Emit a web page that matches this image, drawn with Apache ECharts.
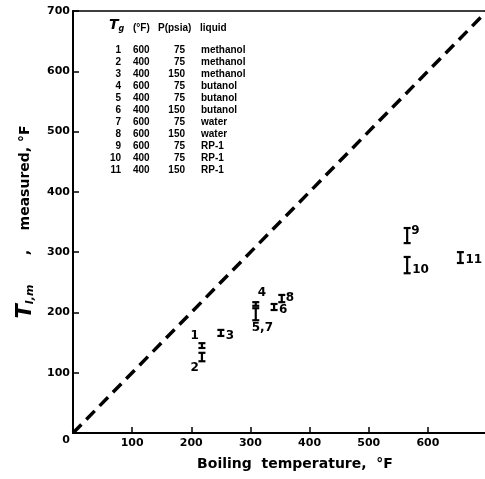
<!DOCTYPE html>
<html>
<head>
<meta charset="UTF-8">
<title>boiling_temp.html</title>
<script src="https://cdn.jsdelivr.net/npm/echarts@6/dist/echarts.min.js"></script>
<style>
html, body { margin:0; padding:0; background:#fff; overflow:hidden; }
/* a bit wider than the window: the 700 end of the x axis falls just outside, as in the scan */
#chart { width:490px; height:479px; }
</style>
</head>
<body>
<div id="chart"></div>
<script>
// runs: boiling temperature (x) and measured range low/high, all in deg F
var runs   = ['1', '2', '3', '4', '5,7', '6', '8', '9', '10', '11'];
var boilT  = [218, 218, 250, 309, 309, 340, 353, 565, 565, 655];
var measLo = [141, 119, 161, 211, 187, 204, 217, 315, 265, 282];
var measHi = [149, 133, 171, 217, 207, 214, 229, 340, 292, 300];
// where the run number sits next to its bar
var labelPos = ['tl', 'bl', 'r', 'tr', 'b', 'r', 'rt', 'rt', 'br', 'br'];

// 45 degree reference line
var refLine = [[0, 0], [700, 700]];

// table in the upper left corner
var tabNo  = ['1', '2', '3', '4', '5', '6', '7', '8', '9', '10', '11'];
var tabTg  = ['600', '400', '400', '600', '400', '400', '600', '600', '600', '400', '400'];
var tabP   = ['75', '75', '150', '75', '75', '150', '75', '150', '75', '75', '150'];
var tabLiq = ['methanol', 'methanol', 'methanol', 'butanol', 'butanol', 'butanol',
              'water', 'water', 'RP-1', 'RP-1', 'RP-1'];

var FONT = 'DejaVu Sans';
var TFONT = 'Liberation Sans';

function renderBar(params, api) {
  var i = params.dataIndex;
  var top = api.coord([api.value(0), api.value(2)]);
  var bot = api.coord([api.value(0), api.value(1)]);
  var w = 3.5;
  var x = top[0];
  var tx = x, ty = top[1], ta = 'left', tv = 'middle';
  switch (labelPos[i]) {
    case 'tl': tx = x - 3; ty = top[1] - 1; ta = 'right'; tv = 'bottom'; break;
    case 'bl': tx = x - 3; ty = bot[1] + 1; ta = 'right'; tv = 'top'; break;
    case 'r':  tx = x + 5; ty = (top[1] + bot[1]) / 2 + 3; ta = 'left'; tv = 'middle'; break;
    case 'tr': tx = x + 2; ty = top[1] - 3; ta = 'left'; tv = 'bottom'; break;
    case 'b':  tx = x - 4; ty = bot[1] + 2; ta = 'left'; tv = 'top'; break;
    case 'rt': tx = x + 4; ty = top[1] - 3; ta = 'left'; tv = 'top'; break;
    case 'br': tx = x + 5; ty = bot[1] + 3; ta = 'left'; tv = 'bottom'; break;
  }
  var st = { stroke: '#000', lineWidth: 2.2 };
  return {
    type: 'group',
    children: [
      { type: 'line', shape: { x1: x, y1: top[1], x2: x, y2: bot[1] }, style: st },
      { type: 'line', shape: { x1: x - w, y1: top[1], x2: x + w, y2: top[1] }, style: st },
      { type: 'line', shape: { x1: x - w, y1: bot[1], x2: x + w, y2: bot[1] }, style: st },
      { type: 'text', x: tx, y: ty,
        style: { text: runs[i], fill: '#000', font: 'bold 12px ' + FONT, align: ta, verticalAlign: tv } }
    ]
  };
}

var barData = [];
for (var i = 0; i < runs.length; i++) {
  barData.push([boilT[i], measLo[i], measHi[i]]);
}

// table as graphic text columns
var rowTop = 44, rowH = 12;
var tabFont = 'bold 10px ' + TFONT;
var tableGraphics = [
  { type: 'text', left: 109, top: 18,
    style: { text: '{t|T}{s|g}', rich: {
      t: { font: 'italic bold 14px ' + FONT, fill: '#000' },
      s: { font: 'italic bold 8px ' + FONT, fill: '#000', padding: [7, 0, 0, 0] } } } },
  { type: 'text', left: 133, top: 23, style: { text: '(°F)', font: tabFont, fill: '#000' } },
  { type: 'text', left: 158, top: 23, style: { text: 'P(psia)', font: tabFont, fill: '#000' } },
  { type: 'text', left: 200, top: 23, style: { text: 'liquid', font: tabFont, fill: '#000' } },
  { type: 'text', x: 121, y: rowTop,
    style: { text: tabNo.join('\n'), font: tabFont, fill: '#000', align: 'right', lineHeight: rowH } },
  { type: 'text', x: 133, y: rowTop,
    style: { text: tabTg.join('\n'), font: tabFont, fill: '#000', align: 'left', lineHeight: rowH } },
  { type: 'text', x: 185, y: rowTop,
    style: { text: tabP.join('\n'), font: tabFont, fill: '#000', align: 'right', lineHeight: rowH } },
  { type: 'text', x: 201, y: rowTop,
    style: { text: tabLiq.join('\n'), font: tabFont, fill: '#000', align: 'left', lineHeight: rowH } }
];

var myChart = echarts.init(document.getElementById('chart'), null, { renderer: 'canvas' });

var option = {
  backgroundColor: '#fff',
  animation: false,
  textStyle: { fontFamily: FONT, color: '#000' },
  grid: {
    left: 73, top: 11, right: 0, bottom: 46,
    show: true, borderColor: '#000', borderWidth: 1.5, backgroundColor: 'transparent'
  },
  xAxis: {
    type: 'value', min: 0, max: 700, interval: 100,
    name: 'Boiling  temperature,  °F',
    nameLocation: 'middle', nameGap: 24,
    nameTextStyle: { fontFamily: FONT, fontWeight: 'bold', fontSize: 14, color: '#000', padding: [0, 0, 0, 30] },
    axisLine: { lineStyle: { color: '#000', width: 2 } },
    axisTick: { inside: true, length: 6, lineStyle: { color: '#000', width: 1.5 } },
    axisLabel: {
      fontFamily: FONT, fontWeight: 'bold', fontSize: 11, color: '#000', margin: 5,
      formatter: function (v) { return (v === 0 || v === 700) ? '' : String(v); }
    },
    splitLine: { show: false }
  },
  yAxis: {
    type: 'value', min: 0, max: 700, interval: 100,
    name: '{t|T}{s|I,m}      ,    measured, °F',
    nameLocation: 'middle', nameGap: 32, nameRotate: 90,
    nameTextStyle: {
      fontFamily: FONT, fontWeight: 'bold', fontSize: 14, color: '#000',
      rich: {
        t: { fontFamily: FONT, fontStyle: 'italic', fontWeight: 'bold', fontSize: 21, color: '#000' },
        s: { fontFamily: FONT, fontStyle: 'italic', fontWeight: 'bold', fontSize: 11, color: '#000', verticalAlign: 'bottom' }
      }
    },
    axisLine: { lineStyle: { color: '#000', width: 2 } },
    axisTick: { inside: true, length: 6, lineStyle: { color: '#000', width: 1.5 } },
    axisLabel: {
      fontFamily: FONT, fontWeight: 'bold', fontSize: 11, color: '#000', margin: 3,
      formatter: function (v) { return v === 0 ? '{z|0}' : String(v); },
      rich: { z: { fontFamily: FONT, fontWeight: 'bold', fontSize: 11, color: '#000', padding: [14, 0, 0, 0] } }
    },
    splitLine: { show: false }
  },
  graphic: tableGraphics,
  series: [
    {
      name: 'reference',
      type: 'line',
      data: refLine,
      symbol: 'none',
      lineStyle: { color: '#000', width: 3.5, type: [12, 7] },
      z: 2
    },
    {
      name: 'runs',
      type: 'custom',
      renderItem: renderBar,
      data: barData,
      z: 3
    }
  ]
};

myChart.setOption(option);
</script>
</body>
</html>
